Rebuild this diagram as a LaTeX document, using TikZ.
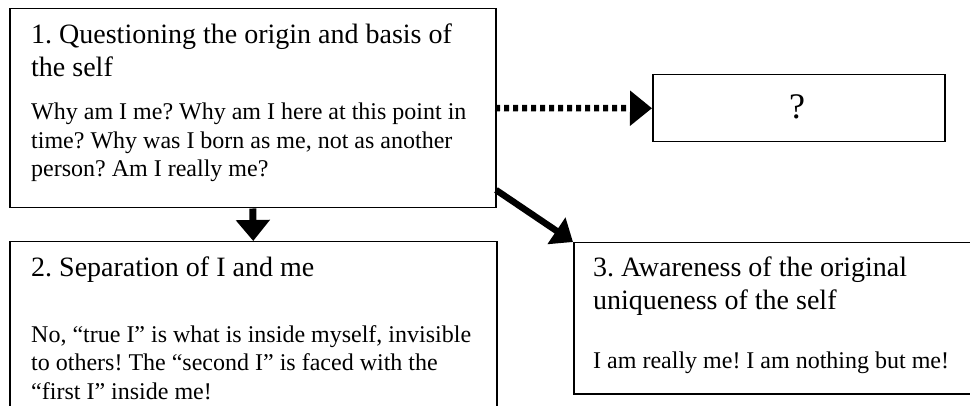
\documentclass[tikz,border=0pt]{standalone}
\usepackage{fontspec}
\setmainfont{Liberation Serif}
\usetikzlibrary{arrows.meta}
\frenchspacing
\begin{document}
\begin{tikzpicture}[x=1pt,y=-1pt,
  box/.style={draw, line width=1.5pt, rectangle, inner sep=0pt, anchor=north west},
  ttl/.style={anchor=base west, inner sep=0pt, font=\fontsize{28}{33}\selectfont},
  bdy/.style={anchor=base west, inner sep=0pt, font=\fontsize{24}{28.5}\selectfont},
  bigarrow/.style={line width=7pt, -{Triangle[width=33pt,length=21pt]}},
  dotarrow/.style={line width=6.5pt, dash pattern=on 5pt off 4pt, -{Triangle[width=34pt,length=22pt]}},
]
\useasboundingbox (0,0) rectangle (970,406);
\clip (0,0) rectangle (970,406);

% boxes
\node[box, minimum width=486pt, minimum height=199pt] (b1) at (9,8) {};
\node[box, minimum width=292pt, minimum height=67pt] (b0) at (652,74) {};
\node[box, minimum width=487pt, minimum height=200pt] (b2) at (9,241) {};
\node[box, minimum width=430pt, minimum height=151pt] (b3) at (573,242) {};

% texts box 1
\node[ttl] (t1a) at (31,44) {1. Questioning the origin and basis of};
\node[ttl] (t1b) at (31,77) {the self};
\node[bdy] (t1c) at (31,120) {Why am I me? Why am I here at this point in};
\node[bdy] (t1d) at (31,148.5) {time? Why was I born as me, not as another};
\node[bdy] (t1e) at (31,177) {person? Am I really me?};

% question box
\node[anchor=base, inner sep=0pt, font=\fontsize{36}{40}\selectfont] (tq) at (797,119) {?};

% texts box 2
\node[ttl] (t2a) at (31,277) {2. Separation of I and me};
\node[bdy] (t2b) at (31,342) {No, “true I” is what is inside myself, invisible};
\node[bdy] (t2c) at (31,370.5) {to others! The “second I” is faced with the};
\node[bdy] (t2d) at (31,399) {“first I” inside me!};

% texts box 3
\node[ttl] (t3a) at (593,277) {3. Awareness of the original};
\node[ttl] (t3b) at (593,309) {uniqueness of the self};
\node[bdy] (t3c) at (593,368) {I am really me! I am nothing but me!};

% connectors
\coordinate (d0) at (495,108);
\coordinate (d1) at (496,190);
\draw[bigarrow] (b1.south) -- (b2.north);
\draw[dotarrow] (d0) -- (b0.west);
\draw[line width=6.5pt, -{Triangle[width=31pt,length=20pt]}] (d1) -- (b3.north west);
\end{tikzpicture}
\end{document}
